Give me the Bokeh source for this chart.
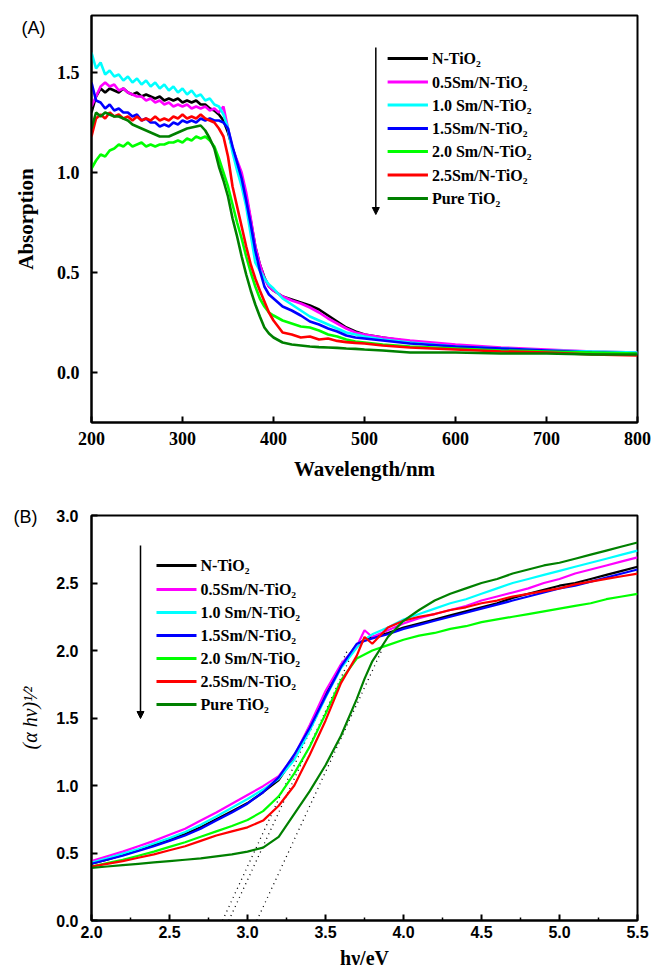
from bokeh.plotting import figure
from bokeh.layouts import column
from bokeh.models import Range1d, FixedTicker, NumeralTickFormatter, Arrow, NormalHead, ColumnDataSource
from bokeh.core.properties import value
from bokeh.embed import file_html
from bokeh.resources import INLINE

# ---------------- data ----------------
series_names = ["N-TiO₂", "0.5Sm/N-TiO₂", "1.0 Sm/N-TiO₂", "1.5Sm/N-TiO₂",
                "2.0 Sm/N-TiO₂", "2.5Sm/N-TiO₂", "Pure TiO₂"]
series_colors = ["#000000", "#ff00ff", "#00ffff", "#0000ff", "#00ff00", "#ff0000", "#008000"]

# Panel A: absorption vs wavelength (nm)
wavelength = [200, 205, 210, 215, 220, 225, 230, 235, 240, 245, 250, 255, 260, 265, 270, 275, 280,
              285, 290, 295, 300, 305, 310, 315, 320, 325, 330, 335, 340, 345, 350, 355, 360, 365,
              370, 375, 380, 385, 390, 395, 400,
              410, 420, 430, 440, 450, 460, 470, 480, 490, 500, 520, 550, 600, 650, 700, 750, 800]
abs_n_tio2 = [1.30, 1.38, 1.42, 1.40, 1.42, 1.41, 1.40, 1.42, 1.40, 1.39, 1.40, 1.38, 1.39, 1.38, 1.37,
              1.38, 1.36, 1.37, 1.36, 1.37, 1.35, 1.36, 1.35, 1.36, 1.34, 1.34, 1.32, 1.31, 1.29, 1.26,
              1.20, 1.12, 1.05, 0.98, 0.88, 0.76, 0.63, 0.54, 0.475, 0.43, 0.41,
              0.38, 0.365, 0.35, 0.335, 0.315, 0.285, 0.255, 0.225, 0.205, 0.19, 0.175, 0.155, 0.135,
              0.12, 0.11, 0.10, 0.095]
abs_05sm = [1.33, 1.38, 1.43, 1.45, 1.43, 1.44, 1.41, 1.42, 1.40, 1.39, 1.38, 1.38, 1.36, 1.37, 1.35,
            1.36, 1.34, 1.35, 1.33, 1.34, 1.33, 1.34, 1.32, 1.33, 1.32, 1.33, 1.31, 1.32, 1.30, 1.33,
            1.22, 1.12, 1.06, 1.00, 0.90, 0.77, 0.63, 0.54, 0.47, 0.43, 0.41,
            0.38, 0.36, 0.345, 0.325, 0.30, 0.27, 0.245, 0.22, 0.20, 0.19, 0.175, 0.16, 0.14,
            0.125, 0.115, 0.105, 0.10]
abs_10sm = [1.60, 1.52, 1.55, 1.49, 1.51, 1.48, 1.49, 1.46, 1.48, 1.45, 1.47, 1.44, 1.46, 1.43, 1.45,
            1.42, 1.44, 1.41, 1.43, 1.40, 1.42, 1.39, 1.41, 1.38, 1.39, 1.36, 1.37, 1.34, 1.33, 1.29,
            1.22, 1.10, 1.01, 0.93, 0.83, 0.69, 0.55, 0.51, 0.47, 0.44, 0.42,
            0.37, 0.34, 0.31, 0.28, 0.26, 0.24, 0.22, 0.20, 0.19, 0.18, 0.165, 0.15, 0.13,
            0.12, 0.11, 0.105, 0.10]
abs_15sm = [1.45, 1.36, 1.35, 1.32, 1.34, 1.31, 1.32, 1.30, 1.30, 1.28, 1.29, 1.26, 1.27, 1.25, 1.25,
            1.23, 1.24, 1.23, 1.25, 1.24, 1.26, 1.25, 1.26, 1.25, 1.27, 1.26, 1.27, 1.26, 1.26, 1.25,
            1.22, 1.13, 1.05, 0.97, 0.86, 0.74, 0.61, 0.51, 0.43, 0.39, 0.37,
            0.33, 0.31, 0.285, 0.255, 0.24, 0.22, 0.205, 0.185, 0.175, 0.17, 0.16, 0.145, 0.13,
            0.12, 0.11, 0.10, 0.095]
abs_20sm = [1.02, 1.06, 1.09, 1.08, 1.11, 1.12, 1.14, 1.13, 1.15, 1.13, 1.14, 1.15, 1.13, 1.14, 1.13,
            1.14, 1.14, 1.15, 1.15, 1.16, 1.15, 1.17, 1.16, 1.18, 1.17, 1.18, 1.16, 1.13, 1.07, 1.00,
            0.93, 0.84, 0.75, 0.67, 0.58, 0.50, 0.43, 0.37, 0.33, 0.30, 0.285,
            0.26, 0.245, 0.23, 0.225, 0.21, 0.19, 0.18, 0.165, 0.155, 0.15, 0.14, 0.13, 0.12,
            0.11, 0.105, 0.10, 0.095]
abs_25sm = [1.18, 1.27, 1.29, 1.27, 1.30, 1.28, 1.29, 1.27, 1.28, 1.26, 1.28, 1.26, 1.27, 1.26, 1.28,
            1.26, 1.27, 1.26, 1.28, 1.27, 1.29, 1.27, 1.28, 1.27, 1.29, 1.27, 1.26, 1.25, 1.22, 1.18,
            1.08, 0.93, 0.83, 0.73, 0.63, 0.54, 0.47, 0.41, 0.355, 0.30, 0.26,
            0.20, 0.19, 0.175, 0.18, 0.165, 0.17, 0.158, 0.152, 0.148, 0.145, 0.135, 0.125, 0.115,
            0.105, 0.10, 0.09, 0.085]
abs_pure = [1.22, 1.30, 1.28, 1.30, 1.29, 1.28, 1.28, 1.27, 1.26, 1.24, 1.23, 1.22, 1.21, 1.20, 1.19,
            1.18, 1.18, 1.18, 1.19, 1.20, 1.21, 1.22, 1.225, 1.23, 1.235, 1.21, 1.17, 1.12, 1.03, 0.96,
            0.88, 0.77, 0.68, 0.58, 0.49, 0.41, 0.34, 0.28, 0.225, 0.195, 0.175,
            0.15, 0.14, 0.135, 0.13, 0.127, 0.125, 0.123, 0.12, 0.118, 0.115, 0.11, 0.10, 0.10,
            0.095, 0.095, 0.09, 0.09]
abs_series = [abs_n_tio2, abs_05sm, abs_10sm, abs_15sm, abs_20sm, abs_25sm, abs_pure]

# Panel B: (alpha h nu)^1/2 vs photon energy (eV)
energy = [2.0, 2.1, 2.2, 2.3, 2.4, 2.5, 2.6, 2.7, 2.8, 2.9, 3.0, 3.1, 3.2, 3.3, 3.4, 3.5, 3.6, 3.7,
          3.75, 3.8, 3.9, 4.0, 4.1, 4.2, 4.3, 4.4, 4.5, 4.6, 4.7, 4.8, 4.9, 5.0, 5.1, 5.2, 5.3, 5.4, 5.5]
tauc_n_tio2 = [0.42, 0.45, 0.485, 0.52, 0.56, 0.60, 0.64, 0.69, 0.75, 0.81, 0.87, 0.95, 1.04, 1.21,
               1.44, 1.67, 1.89, 2.04, 2.08, 2.10, 2.13, 2.17, 2.20, 2.23, 2.26, 2.29, 2.32, 2.35, 2.39,
               2.42, 2.45, 2.48, 2.50, 2.53, 2.56, 2.59, 2.62]
tauc_05sm = [0.44, 0.475, 0.51, 0.55, 0.59, 0.635, 0.68, 0.74, 0.80, 0.865, 0.93, 0.995, 1.07, 1.22,
             1.45, 1.70, 1.90, 2.03, 2.15, 2.10, 2.15, 2.20, 2.24, 2.27, 2.30, 2.33, 2.37, 2.40, 2.43,
             2.46, 2.50, 2.53, 2.57, 2.60, 2.63, 2.66, 2.69]
tauc_10sm = [0.43, 0.46, 0.495, 0.53, 0.57, 0.61, 0.655, 0.71, 0.77, 0.835, 0.90, 0.97, 1.05, 1.19,
             1.41, 1.65, 1.87, 2.02, 2.08, 2.12, 2.17, 2.23, 2.27, 2.31, 2.35, 2.38, 2.42, 2.46, 2.50,
             2.53, 2.56, 2.59, 2.62, 2.65, 2.68, 2.71, 2.74]
tauc_15sm = [0.42, 0.45, 0.48, 0.515, 0.55, 0.59, 0.63, 0.68, 0.74, 0.80, 0.865, 0.95, 1.06, 1.23,
             1.43, 1.66, 1.88, 2.05, 2.07, 2.09, 2.12, 2.16, 2.19, 2.22, 2.25, 2.28, 2.31, 2.34, 2.37,
             2.40, 2.43, 2.46, 2.48, 2.51, 2.54, 2.57, 2.60]
tauc_20sm = [0.40, 0.425, 0.45, 0.48, 0.51, 0.545, 0.58, 0.62, 0.66, 0.70, 0.745, 0.81, 0.92, 1.09,
             1.29, 1.53, 1.78, 1.94, 1.97, 2.00, 2.04, 2.08, 2.11, 2.13, 2.16, 2.18, 2.21, 2.23, 2.25,
             2.27, 2.29, 2.31, 2.33, 2.35, 2.38, 2.40, 2.42]
tauc_25sm = [0.40, 0.42, 0.44, 0.465, 0.49, 0.52, 0.55, 0.59, 0.63, 0.66, 0.69, 0.74, 0.85, 1.00,
             1.23, 1.48, 1.76, 1.96, 2.10, 2.05, 2.17, 2.22, 2.25, 2.27, 2.30, 2.32, 2.35, 2.37, 2.40,
             2.42, 2.44, 2.46, 2.49, 2.51, 2.53, 2.55, 2.57]
tauc_pure = [0.39, 0.40, 0.41, 0.42, 0.43, 0.44, 0.45, 0.46, 0.475, 0.49, 0.51, 0.54, 0.62, 0.79,
             0.96, 1.15, 1.37, 1.64, 1.79, 1.92, 2.10, 2.22, 2.30, 2.37, 2.42, 2.46, 2.50, 2.53, 2.57,
             2.60, 2.63, 2.65, 2.68, 2.71, 2.74, 2.77, 2.80]
tauc_series = [tauc_n_tio2, tauc_05sm, tauc_10sm, tauc_15sm, tauc_20sm, tauc_25sm, tauc_pure]

# tangent (band-gap extrapolation) lines: start on the x axis, end point
tangent_x0 = [2.84, 2.88, 3.06]
tangent_y0 = [0.0, 0.0, 0.0]
tangent_x1 = [3.64, 3.66, 3.86]
tangent_y1 = [2.0, 1.95, 2.0]

# axis ticks
a_xticks = [200, 300, 400, 500, 600, 700, 800]
a_yticks = [0.0, 0.5, 1.0, 1.5]
b_xticks = [2.0, 2.5, 3.0, 3.5, 4.0, 4.5, 5.0, 5.5]
b_xminor = [2.25, 2.75, 3.25, 3.75, 4.25, 4.75, 5.25]
b_yticks = [0.0, 0.5, 1.0, 1.5, 2.0, 2.5, 3.0]

# ---------------- layout ----------------
W = 652
HA, HB = 485, 487
FA = dict(L=83, R=638, T=15, B=422)
FB = dict(L=91, R=637, T=30, B=435)
XA, YA = (200, 800), (-0.25, 1.785)
XB, YB = (2.0, 5.5), (0.0, 3.0)

SERIF = "Liberation Serif"
SANS = "Liberation Sans"


def make_fig(h, F, xr, yr, panel_tag, tag_standoff):
    p = figure(width=W, height=h, x_range=Range1d(*xr), y_range=Range1d(*yr),
               output_backend="svg", toolbar_location=None, title=panel_tag,
               min_border_left=F["L"], min_border_right=W - F["R"],
               min_border_top=F["T"], min_border_bottom=h - F["B"])
    p.xgrid.visible = False
    p.ygrid.visible = False
    p.outline_line_color = "black"
    p.outline_line_width = 2
    p.outline_line_alpha = 1
    p.background_fill_color = "white"
    p.border_fill_color = "white"
    t = p.title
    t.align = "left"
    t.offset = 13 - F["L"]
    t.vertical_align = "bottom"
    t.standoff = tag_standoff
    t.text_font = SANS
    t.text_font_style = "normal"
    t.text_font_size = "18px"
    t.text_color = "black"
    return p


def conv(F, xr, yr):
    def fx(px):
        return xr[0] + (px - F["L"]) * (xr[1] - xr[0]) / (F["R"] - F["L"])

    def fy(py):
        return yr[1] - (py - F["T"]) * (yr[1] - yr[0]) / (F["B"] - F["T"])
    return fx, fy


def style_axes(p, font, size):
    for ax in (p.xaxis[0], p.yaxis[0]):
        ax.axis_line_width = 2
        ax.axis_line_color = "black"
        ax.major_tick_in = 6
        ax.major_tick_out = 0
        ax.minor_tick_in = 3
        ax.minor_tick_out = 0
        ax.major_tick_line_width = 2
        ax.minor_tick_line_width = 1.5
        ax.major_label_text_font = font
        ax.major_label_text_font_style = "bold"
        ax.major_label_text_font_size = size
        ax.major_label_text_color = "black"
        ax.axis_label_text_color = "black"


def add_legend(p, fx, fy, arrow_px, arrow_py0, arrow_py1, line_px0, line_px1, text_px, rows_py):
    ys = [fy(r) for r in rows_py]
    for name, col, y in zip(series_names, series_colors, ys):
        p.line([fx(line_px0), fx(line_px1)], [y, y], line_color=col, line_width=3)
    src = ColumnDataSource(dict(x=[fx(text_px)] * len(series_names), y=ys, t=series_names))
    p.text(x="x", y="y", text="t", source=src, text_font=value(SERIF), text_font_style="bold",
           text_font_size="16px", text_baseline="middle", text_align="left", text_color="black")
    p.add_layout(Arrow(x_start=fx(arrow_px), y_start=fy(arrow_py0), x_end=fx(arrow_px), y_end=fy(arrow_py1),
                       line_width=1.5, line_color="black",
                       end=NormalHead(size=7, fill_color="black", line_color="black")))


# ---------------- panel A ----------------
pA = make_fig(HA, FA, XA, YA, "(A)", -44)
fxA, fyA = conv(FA, XA, YA)
for ys, col in zip(abs_series, series_colors):
    pA.line(wavelength, ys, line_color=col, line_width=2.6)
style_axes(pA, SERIF, "18px")
pA.xaxis[0].ticker = FixedTicker(ticks=a_xticks)
pA.yaxis[0].ticker = FixedTicker(ticks=a_yticks)
pA.xaxis[0].formatter = NumeralTickFormatter(format="0")
pA.yaxis[0].formatter = NumeralTickFormatter(format="0.0")
pA.xaxis[0].major_label_standoff = 9
pA.yaxis[0].major_label_standoff = 12
pA.xaxis[0].axis_label = "Wavelength/nm"
pA.yaxis[0].axis_label = "Absorption"
for ax in (pA.xaxis[0], pA.yaxis[0]):
    ax.axis_label_text_font = SERIF
    ax.axis_label_text_font_style = "bold"
    ax.axis_label_text_font_size = "21px"
pA.xaxis[0].axis_label_standoff = 9
pA.yaxis[0].axis_label_standoff = 16
add_legend(pA, fxA, fyA, 372, 47, 214, 384, 425, 429, [58, 81.5, 104.5, 128, 151, 174.5, 198])

# ---------------- panel B ----------------
pB = make_fig(HB, FB, XB, YB, "(B)", -23)
fxB, fyB = conv(FB, XB, YB)
pB.segment(x0=tangent_x0, y0=tangent_y0, x1=tangent_x1, y1=tangent_y1, line_color="black",
           line_width=1.3, line_dash="1 4")
for ys, col in zip(tauc_series, series_colors):
    pB.line(energy, ys, line_color=col, line_width=2.2)
style_axes(pB, SANS, "16px")
pB.xaxis[0].ticker = FixedTicker(ticks=b_xticks, minor_ticks=b_xminor)
pB.yaxis[0].ticker = FixedTicker(ticks=b_yticks)
pB.xaxis[0].formatter = NumeralTickFormatter(format="0.0")
pB.yaxis[0].formatter = NumeralTickFormatter(format="0.0")
pB.xaxis[0].major_label_standoff = 5
pB.yaxis[0].major_label_standoff = 13
pB.xaxis[0].axis_label = "hν/eV"
pB.xaxis[0].axis_label_text_font = SERIF
pB.xaxis[0].axis_label_text_font_style = "bold"
pB.xaxis[0].axis_label_text_font_size = "20px"
pB.xaxis[0].axis_label_standoff = 6
pB.yaxis[0].axis_label = "(α hν)¹⁄²"
pB.yaxis[0].axis_label_text_font = SERIF
pB.yaxis[0].axis_label_text_font_style = "italic"
pB.yaxis[0].axis_label_text_font_size = "20px"
pB.yaxis[0].axis_label_standoff = 12
add_legend(pB, fxB, fyB, 140, 60, 233, 156, 196, 200, [80, 104, 127, 150, 173, 196, 219])

layout = column(pA, pB, spacing=0)
open("out.html", "w").write(file_html(layout, INLINE))
